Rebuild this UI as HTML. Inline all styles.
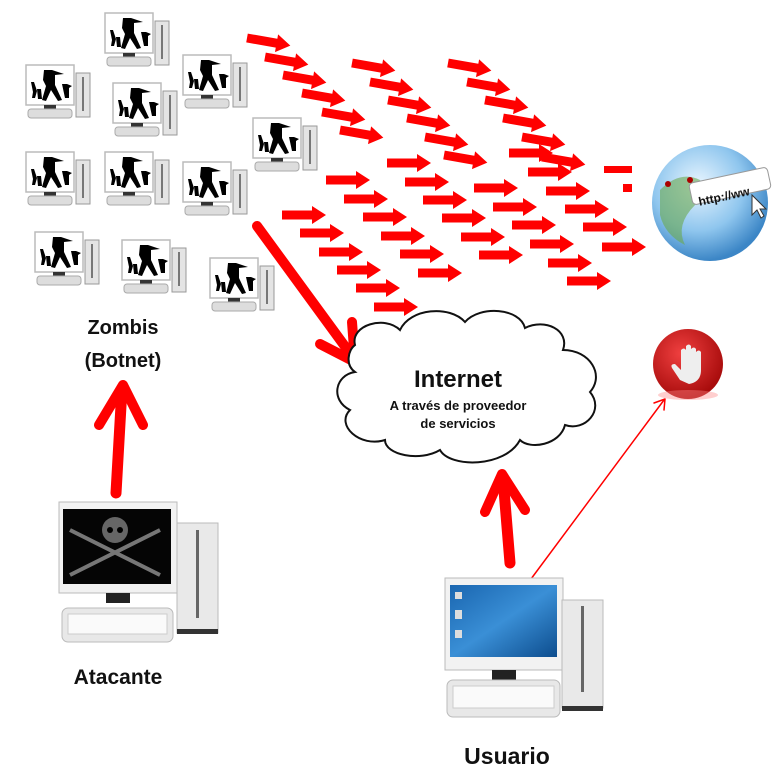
<!DOCTYPE html>
<html><head><meta charset="utf-8"><style>
html,body{margin:0;padding:0;background:#fff;width:781px;height:775px;overflow:hidden}
svg{display:block}
text{font-family:"Liberation Sans",sans-serif;font-weight:bold;fill:#111}
</style></head><body>
<svg id="s" width="781" height="775" viewBox="0 0 781 775" xmlns="http://www.w3.org/2000/svg">
<defs>
<radialGradient id="glob" cx="40%" cy="35%" r="65%"><stop offset="0" stop-color="#eaf6ff"/><stop offset="0.6" stop-color="#8fc6ee"/><stop offset="1" stop-color="#3c86c6"/></radialGradient>
<radialGradient id="stop" cx="40%" cy="35%" r="65%"><stop offset="0" stop-color="#f04040"/><stop offset="1" stop-color="#a80c0c"/></radialGradient>
<linearGradient id="scr" x1="0" y1="0" x2="1" y2="1"><stop offset="0" stop-color="#1a66b0"/><stop offset="0.5" stop-color="#3a8fd6"/><stop offset="1" stop-color="#0d4d8e"/></linearGradient>
<g id="zc">
<rect x="0" y="0" width="48" height="40" fill="#fff" stroke="#bbb" stroke-width="1.5"/>
<path d="M18 5 l8 0 l12 4 l-9 1 l0 10 l7 15 l-4 1 l-7 -11 l-5 11 l-4 -1 l4 -14 l-3 -6 z" fill="#000"/>
<path d="M5 17 l3 0 l3 9 l-2 7 l-3 0 l1 -6 z M36 19 l5 0 l5 2 l-3 2 l0 10 l-4 0 z M11 24 l4 0 l1 10 l-4 0 z" fill="#000"/>
<rect x="18" y="40" width="12" height="4" fill="#333"/>
<rect x="2" y="44" width="44" height="9" rx="3" fill="#ddd" stroke="#aaa"/>
<rect x="50" y="8" width="14" height="44" fill="#e4e4e4" stroke="#999"/>
<rect x="56" y="12" width="2" height="34" fill="#777"/>
</g>
</defs>
<g id="zs"></g>
<g id="arr" fill="#f00"></g>

<g stroke="#f00" stroke-linecap="round" stroke-linejoin="round" fill="none">
<path d="M257 226 L352 356" stroke-width="10"/>
<path d="M320 344 L355 362 L352 322" stroke-width="10"/>
<path d="M116 493 L122 388" stroke-width="11"/>
<path d="M99 425 L123 385 L143 425" stroke-width="10"/>
<path d="M510 563 L503 478" stroke-width="11"/>
<path d="M485 512 L502 474 L525 510" stroke-width="10"/>
<path d="M528 583 L664 400" stroke-width="1.5"/>
<path d="M654 403 L665 399 L664 410" stroke-width="1.5"/>
</g>

<path d="M355 345 C350 325 385 315 400 330 C410 308 450 305 465 322 C480 305 520 308 525 328 C545 318 570 330 563 350 C590 350 605 375 590 392 C605 410 585 432 565 425 C560 445 530 450 520 440 C505 468 450 468 440 450 C420 462 385 455 385 440 C360 448 335 425 350 410 C330 400 335 375 355 372 C345 365 348 350 355 345 Z" fill="#fff" stroke="#111" stroke-width="2"/>
<text x="458" y="387" font-size="24" text-anchor="middle">Internet</text>
<text x="458" y="410" font-size="13" text-anchor="middle">A través de proveedor</text>
<text x="458" y="428" font-size="13" text-anchor="middle">de servicios</text>

<circle cx="710" cy="203" r="58" fill="url(#glob)"/>
<path d="M660 190 q20 -20 40 -10 q10 15 -5 25 q-20 20 -10 40 q-20 -10 -25 -30 z" fill="#6aa84f" opacity="0.6"/>
<rect x="690" y="175" width="80" height="22" rx="4" fill="#fff" stroke="#999" transform="rotate(-12 730 186)"/>
<text x="696" y="199" font-size="12" font-family="Liberation Mono" fill="#333" transform="rotate(-12 730 186)">http://ww</text>
<circle cx="668" cy="184" r="3" fill="#a00"/><circle cx="690" cy="180" r="3" fill="#a00"/>
<path d="M752 195 l0 20 l5 -5 l4 8 l3 -2 l-4 -7 l6 0 z" fill="#fff" stroke="#333"/>

<circle cx="688" cy="364" r="35" fill="url(#stop)"/>
<ellipse cx="688" cy="395" rx="30" ry="5" fill="#f88" opacity="0.4"/>
<path d="M680 380 l-8 -12 q-2 -4 3 -4 l6 6 l0 -20 q3 -3 5 0 l0 -4 q3 -3 5 0 l0 3 q3 -3 5 0 l0 3 q3 -3 5 0 l0 18 q0 12 -12 14 z" fill="#eee"/>

<rect x="59" y="502" width="118" height="91" fill="#f2f2f2" stroke="#bbb"/>
<rect x="63" y="509" width="108" height="75" fill="#050505"/>
<circle cx="115" cy="530" r="13" fill="#666"/>
<circle cx="110" cy="530" r="3" fill="#000"/><circle cx="120" cy="530" r="3" fill="#000"/>
<path d="M70 530 L160 575 M160 530 L70 575" stroke="#777" stroke-width="4"/>
<rect x="106" y="593" width="24" height="10" fill="#222"/>
<rect x="62" y="608" width="111" height="34" rx="6" fill="#e8e8e8" stroke="#bbb"/>
<rect x="68" y="614" width="99" height="20" fill="#fafafa" stroke="#ccc"/>
<rect x="177" y="523" width="41" height="110" fill="#e9e9e9" stroke="#bbb"/>
<rect x="196" y="530" width="3" height="88" fill="#666"/>
<rect x="177" y="629" width="41" height="5" fill="#333"/>

<rect x="445" y="578" width="118" height="92" fill="#f2f2f2" stroke="#bbb"/>
<rect x="450" y="585" width="107" height="72" fill="url(#scr)"/>
<rect x="455" y="592" width="7" height="7" fill="#ddd"/><rect x="455" y="610" width="7" height="9" fill="#ddd"/><rect x="455" y="630" width="7" height="8" fill="#ddd"/>
<rect x="492" y="670" width="24" height="10" fill="#222"/>
<rect x="447" y="680" width="113" height="37" rx="6" fill="#e8e8e8" stroke="#bbb"/>
<rect x="453" y="686" width="101" height="22" fill="#fafafa" stroke="#ccc"/>
<rect x="562" y="600" width="41" height="108" fill="#e9e9e9" stroke="#bbb"/>
<rect x="581" y="606" width="3" height="86" fill="#666"/>
<rect x="562" y="706" width="41" height="5" fill="#333"/>

<text x="123" y="334" font-size="20" text-anchor="middle">Zombis</text>
<text x="123" y="367" font-size="20" text-anchor="middle">(Botnet)</text>
<text x="118" y="684" font-size="21" text-anchor="middle">Atacante</text>
<text x="507" y="764" font-size="23" text-anchor="middle">Usuario</text>
</svg>
<script>
var NS="http://www.w3.org/2000/svg";
var zs=document.getElementById("zs");
[[105,13],[26,65],[113,83],[183,55],[253,118],[26,152],[105,152],[183,162],[35,232],[122,240],[210,258]].forEach(function(p){
 var u=document.createElementNS(NS,"use");u.setAttribute("href","#zc");u.setAttribute("x",p[0]);u.setAttribute("y",p[1]);zs.appendChild(u);
});
var g=document.getElementById("arr");
function arrow(x,y,ang){
 var p=document.createElementNS(NS,"path");
 p.setAttribute("d","M0 -4.5 L30 -4.5 L30 -9 L44 0 L30 9 L30 4.5 L0 4.5 Z");
 p.setAttribute("transform","translate("+x+","+y+") rotate("+ang+")");
 g.appendChild(p);
}
var slant=[[247,38],[265,57],[283,75],[302,93],[322,112],[340,130],
[352,63],[370,82],[388,100],[407,118],[425,137],[444,155],
[448,63],[467,82],[485,100],[503,118],[522,137],[542,157]];
slant.forEach(function(a){arrow(a[0],a[1],10);});
var hor=[[509,153],[387,163],[405,182],[423,200],[442,218],[461,237],[479,255],
[326,180],[344,199],[363,217],[381,236],[400,254],[418,273],
[282,215],[300,233],[319,252],[337,270],[356,288],[374,307],
[474,188],[493,207],[512,225],[530,244],[548,263],[567,281],
[528,172],[546,191],[565,209],[583,227],[602,247]];
hor.forEach(function(a){arrow(a[0],a[1],0);});
var r=document.createElementNS(NS,"rect");r.setAttribute("x",604);r.setAttribute("y",166);r.setAttribute("width",28);r.setAttribute("height",7);g.appendChild(r);
r=document.createElementNS(NS,"rect");r.setAttribute("x",623);r.setAttribute("y",184);r.setAttribute("width",9);r.setAttribute("height",8);g.appendChild(r);
</script>
</body></html>
